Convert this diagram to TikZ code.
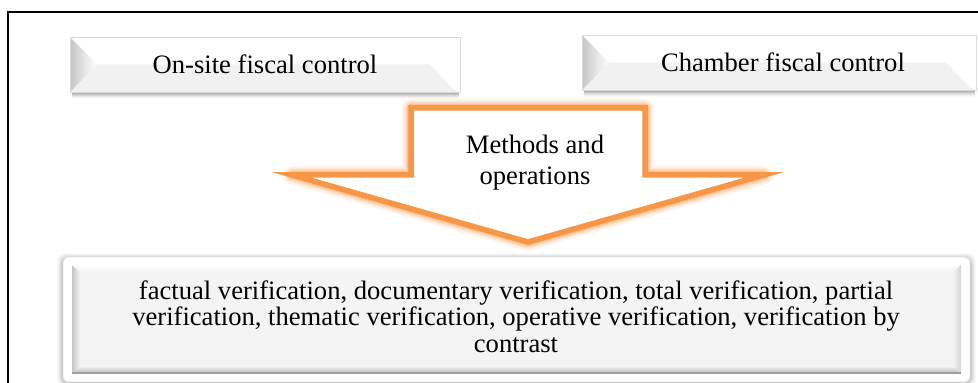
\documentclass[tikz,border=0pt]{standalone}
\usepackage{fontspec}
\setmainfont{Liberation Serif}
\definecolor{arroworange}{HTML}{F79646}
\definecolor{boxgray}{HTML}{F4F4F4}
\definecolor{bandgray}{HTML}{F1F1F1}
\definecolor{edgegray}{HTML}{DADADA}
\begin{document}
\begin{tikzpicture}[x=0.5pt,y=-0.5pt,
  txt/.style={font=\fontsize{13.3}{15}\selectfont, inner sep=0pt},
  glow/.style={arroworange, line join=round, line cap=round}]
\useasboundingbox (0,0) rectangle (978,383);
\fill[white] (0,0) rectangle (978,383);
% outer frame
\draw[line width=0.8pt] (8,395) -- (8,12) -- (990,12);

% top bevel boxes
\foreach \xa/\ya/\xb/\yb in {70/37/460/92, 582/35/976/90}{
  \pgfmathsetmacro{\ym}{(\ya+\yb)/2}
  \foreach \d/\o in {1/0.10,2/0.09,3/0.08,4/0.06,5/0.05,6/0.03,7/0.02}
    \fill[black,opacity=\o] (\xa+2,\yb-2) rectangle (\xb-1,\yb+\d);
  \fill[white] (\xa,\ya) rectangle (\xb,\yb);
  \fill[bandgray] (\xa+27,\ym) -- (\xb-30,\ym) -- (\xb-7,\yb-3) -- (\xb,\yb) -- (\xa,\yb) -- cycle;
  \shade[left color=gray!45, right color=white] (\xa,\ya) -- (\xa+27,\ym) -- (\xa,\yb) -- cycle;
  \draw[edgegray, line width=0.4pt] (\xa,\ya) rectangle (\xb,\yb);
}
\node[txt] (onsite) at (265,64) {On-site fiscal control};
\node[txt] (chamber) at (783,62) {Chamber fiscal control};

% bottom box
\foreach \d/\o in {1/0.07,2/0.06,3/0.05,4/0.04,5/0.03,6/0.02}
  \fill[black,opacity=\o,rounded corners=4] (63-\d,257-\d+2) rectangle (970+\d,382+\d);
\filldraw[fill=white, draw=gray!20, line width=0.4pt, rounded corners=3] (63,257) rectangle (970,382);
\fill[boxgray] (72,265) rectangle (961,373);
\shade[left color=gray!45, right color=boxgray] (72,265) -- (80,272) -- (80,366) -- (72,373) -- cycle;
\shade[top color=white, bottom color=boxgray] (72,265) -- (961,265) -- (953,272) -- (80,272) -- cycle;
\shade[left color=boxgray, right color=gray!35] (961,265) -- (961,373) -- (953,366) -- (953,272) -- cycle;
\shade[top color=boxgray, bottom color=gray!55] (72,373) -- (961,373) -- (953,366) -- (80,366) -- cycle;
\draw[gray!75, line width=0.8pt] (72,373) -- (961,373);
\node[txt, align=center, font=\fontsize{13.3}{13.3}\selectfont] (methods) at (516,316.5)
  {factual verification, documentary verification, total verification, partial\\
   verification, thematic verification, operative verification, verification by\\
   contrast};

% arrow with glow
\foreach \w/\o in {9/0.10, 7/0.14, 5.5/0.2, 4/0.3}
  \draw[glow, line width=\w pt, opacity=\o]
    (411,108) -- (645,108) -- (645,175) -- (764,175) -- (528,242) -- (292,175) -- (411,175) -- cycle;
\filldraw[fill=white, draw=arroworange, line width=2.75pt, line join=miter, miter limit=12]
    (411,108) -- (645,108) -- (645,175) -- (764,175) -- (528,242) -- (292,175) -- (411,175) -- cycle;
\node[txt, align=center, font=\fontsize{13.3}{15.5}\selectfont] (arrowtext) at (535,162.5)
  {Methods and\\operations};
\end{tikzpicture}
\end{document}
